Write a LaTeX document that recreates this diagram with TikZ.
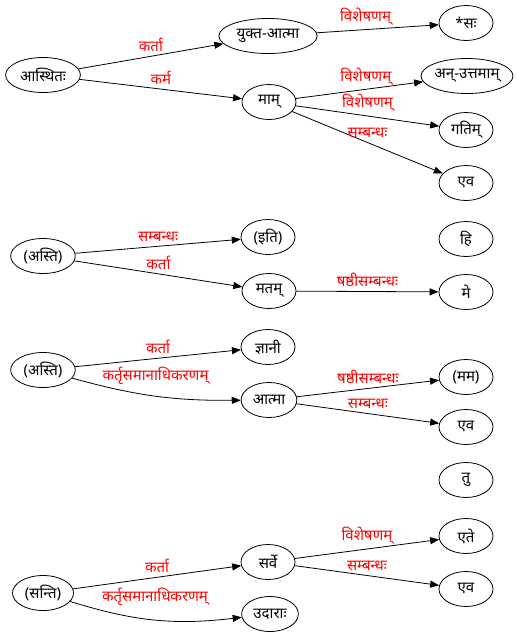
\documentclass[tikz,border=0pt]{standalone}
\usepackage{fontspec}
\newfontfamily\devfont[Script=Devanagari]{Noto Sans}
\usetikzlibrary{arrows.meta,shapes.geometric}

\begin{document}
\begin{tikzpicture}[
    x=1pt, y=-1pt,
    word/.style={ellipse, draw=black, line width=0.8pt, minimum width=54pt, minimum height=35pt, inner xsep=3.5pt, inner ysep=1.5pt, font=\devfont\fontsize{15}{17}\selectfont},
    rel/.style={text=red, inner sep=0pt, above=4pt, font=\devfont\fontsize{15}{17}\selectfont},
    arrow/.style={-{Triangle[length=9pt, width=7pt]}, line width=0.8pt, draw=black},
]
\useasboundingbox[fill=white] (0,0) rectangle (518,638);

% first sentence
\node[word] (asthitah) at (43,75) {आस्थितः};
\node[word] (yuktatma) at (268,36) {युक्त-आत्मा};
\node[word] (mam) at (269,102) {माम्};
\node[word] (sah) at (466,23) {*सः};
\node[word, inner xsep=0pt] (anuttamam) at (467,76) {अन्-उत्तमाम्};
\node[word] (gatim) at (466,130) {गतिम्};
\node[word] (eva1) at (466,183) {एव};

% second sentence
\node[word] (asti1) at (43,256) {(अस्ति)};
\node[word] (iti) at (268,237) {(इति)};
\node[word] (matam) at (269,291) {मतम्};
\node[word] (hi) at (466,239) {हि};
\node[word] (me) at (466,292) {मे};

% third sentence
\node[word] (asti2) at (43,370) {(अस्ति)};
\node[word] (jnani) at (268,347) {ज्ञानी};
\node[word] (atma) at (269,400) {आत्मा};
\node[word] (mama) at (466,377) {(मम)};
\node[word] (eva2) at (466,427) {एव};
\node[word] (tu) at (466,480) {तु};

% fourth sentence
\node[word] (santi) at (43,593) {(सन्ति)};
\node[word] (sarve) at (268,562) {सर्वे};
\node[word] (udarah) at (270,614) {उदाराः};
\node[word] (ete) at (466,536) {एते};
\node[word] (eva3) at (466,589) {एव};

\draw[arrow] (asthitah) -- node[rel] {कर्ता} (yuktatma);
\draw[arrow] (asthitah) -- node[rel] {कर्म} (mam);
\draw[arrow] (yuktatma) -- node[rel, pos=0.4] {विशेषणम्} (sah);
\draw[arrow] (mam) -- node[rel, pos=0.55] {विशेषणम्} (anuttamam);
\draw[arrow] (mam) -- node[rel, pos=0.5] {विशेषणम्} (gatim);
\draw[arrow] (mam) -- node[rel, pos=0.5] {सम्बन्धः} (eva1);

\draw[arrow] (asti1) -- node[rel] {सम्बन्धः} (iti);
\draw[arrow] (asti1) -- node[rel] {कर्ता} (matam);
\draw[arrow] (matam) -- node[rel, pos=0.5] {षष्ठीसम्बन्धः} (me);

\draw[arrow] (asti2) -- node[rel] {कर्ता} (jnani);
\draw[arrow] (asti2) to[bend right=8] node[rel, above=7pt] {कर्तृसमानाधिकरणम्} (atma);
\draw[arrow] (atma) -- node[rel, pos=0.5] {षष्ठीसम्बन्धः} (mama);
\draw[arrow] (atma) -- node[rel, pos=0.5] {सम्बन्धः} (eva2);

\draw[arrow] (santi) -- node[rel] {कर्ता} (sarve);
\draw[arrow] (santi) to[bend right=12] node[rel, above=10pt] {कर्तृसमानाधिकरणम्} (udarah);
\draw[arrow] (sarve) -- node[rel, pos=0.5] {विशेषणम्} (ete);
\draw[arrow] (sarve) -- node[rel, pos=0.5] {सम्बन्धः} (eva3);

\end{tikzpicture}
\end{document}
